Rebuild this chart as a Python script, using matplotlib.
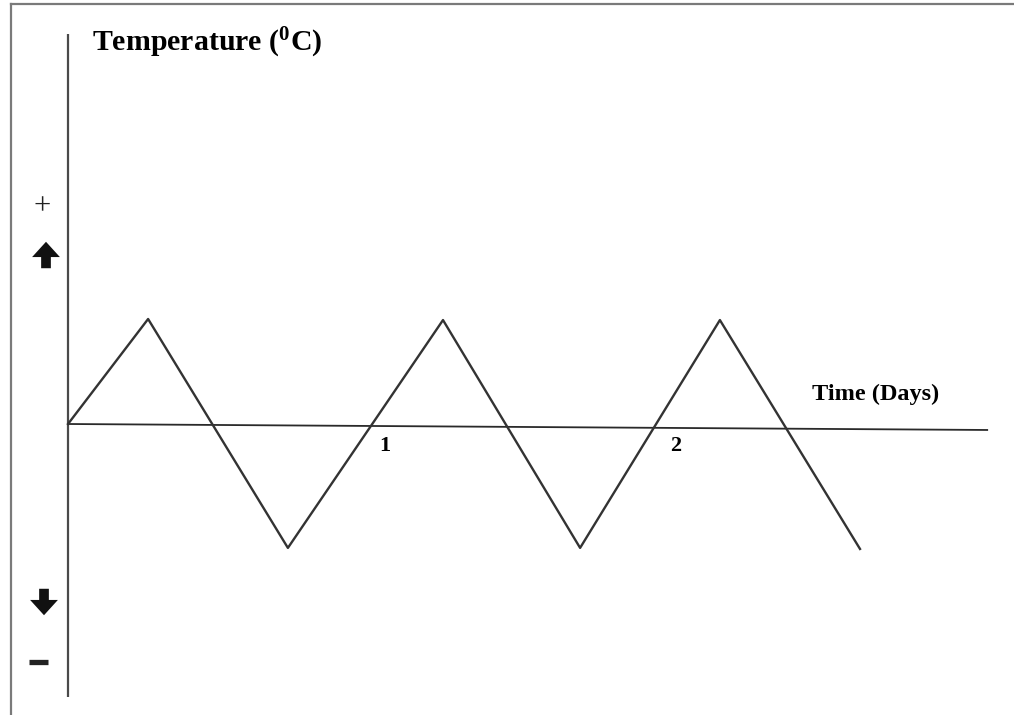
#%%
"""
Sketch of daily temperature cycling: triangle wave about 0 C over ~2.6 days
"""
import numpy as np
import matplotlib
matplotlib.use("Agg")
import matplotlib.pyplot as plt
from matplotlib.lines import Line2D

#%% ---------- Data ----------
days = [0, 0.267, 0.733, 1.25, 1.707, 2.173, 2.64]          # [days] turning points
temp = [0, 1.0, -1.18, 0.99, -1.18, 0.99, -1.19]            # [arb.] relative temperature
xaxis_days = [0, 3.067]                                     # drawn time axis (slightly tilted in sketch)
xaxis_temp = [0, -0.057]
yaxis_temp = [3.714, -2.6]                                  # drawn temperature axis extent
tick_days = [1.057, 2.027]
tick_labels = ["1", "2"]

#%% ---------- Figure ----------
W, H = 1014, 715
plt.rcParams["font.family"] = ["Liberation Serif", "DejaVu Serif"]
plt.rcParams["mathtext.fontset"] = "custom"
plt.rcParams["mathtext.rm"] = "Liberation Serif:bold"
plt.rcParams["mathtext.it"] = "Liberation Serif:bold"
plt.rcParams["mathtext.bf"] = "Liberation Serif:bold"

fig = plt.figure(figsize=(W / 100, H / 100), dpi=100)
ax = fig.add_axes([0, 0, 1, 1])
ax.set_xlim(-68 / 300, 946 / 300)
ax.set_ylim(-291 / 105, 424 / 105)
ax.axis("off")

def px(x, y):
    # image pixel (top-left origin) -> figure fraction
    return x / W, 1 - y / H

# scan frame (top and left edges only)
fig.add_artist(Line2D([px(11, 4)[0], 1], [px(11, 4)[1]] * 2, color="#7a7a7a", lw=1.6))
fig.add_artist(Line2D([px(11, 4)[0]] * 2, [px(11, 4)[1], 0], color="#7a7a7a", lw=1.6))

# axes
ax.plot([0, 0], yaxis_temp, color="#4a4a4a", lw=1.6, solid_capstyle="butt")
ax.plot(xaxis_days, xaxis_temp, color="#2a2a2a", lw=1.3, solid_capstyle="butt")

# temperature curve
ax.plot(days, temp, color="#333333", lw=1.7)

# labels
fig.text(*px(92, 43), r"Temperature ($^{0}$C)", fontsize=21.5, fontweight="bold",
         ha="left", va="center")
fig.text(*px(876, 394), "Time (Days)", fontsize=17.5, fontweight="bold",
         ha="center", va="center")
for d, lab in zip(tick_days, tick_labels):
    ax.text(d, -0.21, lab, fontsize=16, fontweight="bold", ha="center", va="center")

# sign markers with arrows
fig.text(*px(42, 207), "+", fontsize=22, ha="center", va="center", color="#222222")
fig.add_artist(Line2D([px(29, 662)[0], px(48, 662)[0]], [px(29, 662)[1]] * 2,
                      color="#222222", lw=3.8, solid_capstyle="butt"))
arrow_style = "simple,head_length=1.1,head_width=2.0,tail_width=0.7"
ax.annotate("", xy=px(46, 239), xytext=px(46, 271), xycoords="figure fraction",
            textcoords="figure fraction",
            arrowprops=dict(arrowstyle=arrow_style, color="#111111", lw=0))
ax.annotate("", xy=px(44, 618), xytext=px(44, 586), xycoords="figure fraction",
            textcoords="figure fraction",
            arrowprops=dict(arrowstyle=arrow_style, color="#111111", lw=0))

fig.savefig("out.png", dpi=100)
